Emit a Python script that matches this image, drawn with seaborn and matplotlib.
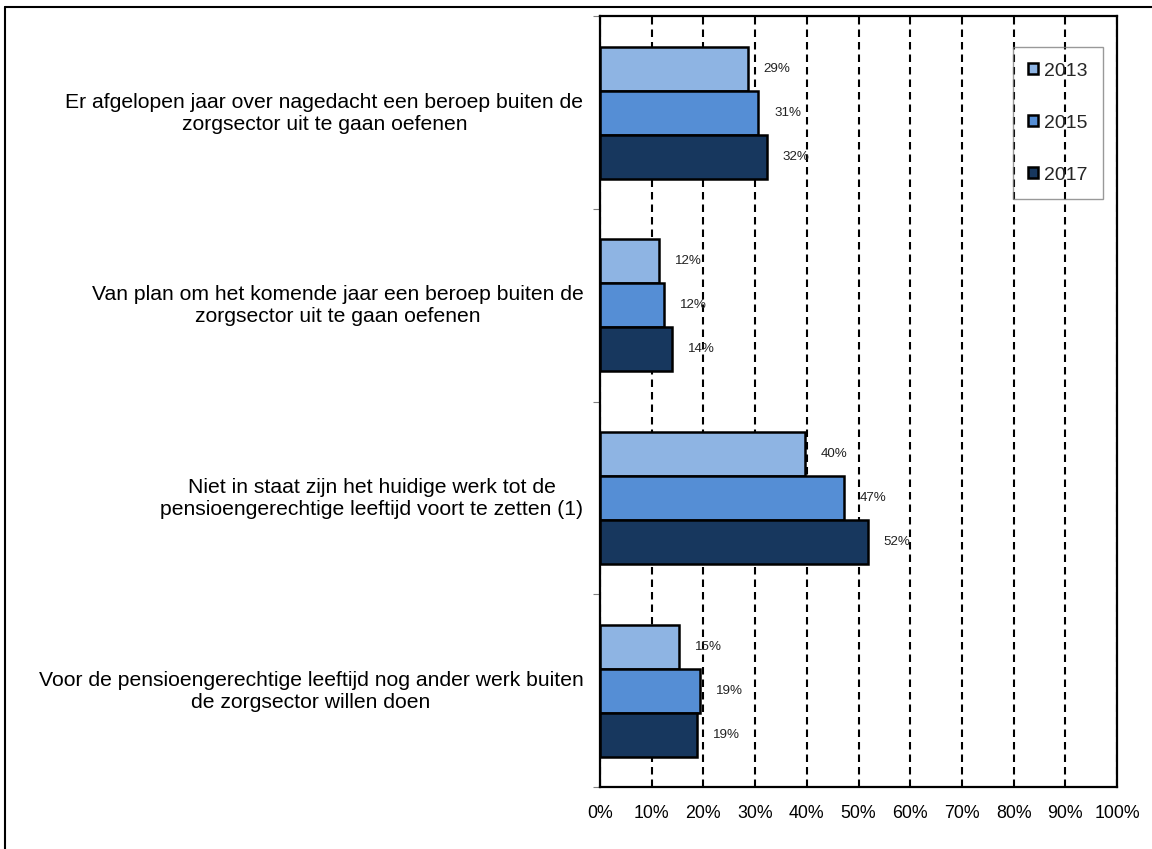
import pandas as pd
import matplotlib.pyplot as plt
import matplotlib.transforms as mtransforms
import seaborn as sns

# data (percentages)
categories = [
    'Er afgelopen jaar over nagedacht een beroep buiten de\nzorgsector uit te gaan oefenen',
    'Van plan om het komende jaar een beroep buiten de\nzorgsector uit te gaan oefenen',
    'Niet in staat zijn het huidige werk tot de\npensioengerechtige leeftijd voort te zetten (1)',
    'Voor de pensioengerechtige leeftijd nog ander werk buiten\nde zorgsector willen doen',
]
years = ['2013', '2015', '2017']
values_2013 = [28.6, 11.5, 39.6, 15.3]
values_2015 = [30.6, 12.3, 47.2, 19.4]
values_2017 = [32.3, 13.9, 51.8, 18.7]
xticks = [0, 10, 20, 30, 40, 50, 60, 70, 80, 90, 100]
xtick_labels = ['0%', '10%', '20%', '30%', '40%', '50%', '60%', '70%', '80%', '90%', '100%']
colors = ['#8EB4E3', '#558ED5', '#17375E']

df = pd.DataFrame({
    'categorie': categories * 3,
    'jaar': [y for y in years for _ in categories],
    'waarde': values_2013 + values_2015 + values_2017,
})

sns.set_theme(style='white')
plt.rcParams['font.family'] = ['Liberation Sans', 'DejaVu Sans']

fig = plt.figure(figsize=(11.52, 8.49), dpi=100)
ax = fig.add_axes([600 / 1152, 1 - 787 / 849, 517 / 1152, 770.6 / 849])

sns.barplot(data=df, y='categorie', x='waarde', hue='jaar', hue_order=years,
            order=categories, palette=colors, orient='h', width=0.685,
            edgecolor='black', linewidth=1.8, saturation=1, ax=ax)

# value labels
for cont in ax.containers:
    ax.bar_label(cont, fmt='{:.0f}%', padding=11.5, fontsize=9.6, color='#222222')

ax.set_xlim(0, 100)
ax.set_ylim(3.5, -0.5)
ax.set_xticks(xticks)
ax.set_xticklabels(xtick_labels, fontsize=12.8, color='black')
ax.tick_params(axis='x', length=0, pad=13)
ax.set_yticks(range(len(categories)))
ax.set_yticklabels(categories, fontsize=15.2, color='black', ha='right',
                   multialignment='center', linespacing=1.2)
ax.tick_params(axis='y', which='major', length=0, pad=12)
# nudge the category labels up a little
shift = mtransforms.ScaledTranslation(0, 3 / 100, fig.dpi_scale_trans)
for lbl in ax.get_yticklabels():
    lbl.set_transform(lbl.get_transform() + shift)
ax.set_yticks([-0.5, 0.5, 1.5, 2.5, 3.5], minor=True)
ax.tick_params(axis='y', which='minor', length=5, width=0.8, color='#808080', left=True, direction='out')
ax.set_xlabel('')
ax.set_ylabel('')

# dashed vertical gridlines behind the bars
ax.set_axisbelow(True)
ax.grid(axis='x', color='black', linestyle=(0, (3.6, 2.4)), linewidth=1.5)
ax.grid(axis='y', visible=False)
for s in ax.spines.values():
    s.set_visible(True)
    s.set_color('black')
    s.set_linewidth(1.6)

leg = ax.legend(loc='upper right', bbox_to_anchor=(0.973, 0.960), fontsize=14,
                frameon=True, fancybox=False, borderpad=0.8, labelspacing=1.8,
                handlelength=0.5, handleheight=0.5, handletextpad=0.3, borderaxespad=0)
leg.get_frame().set_facecolor('none')
leg.get_frame().set_edgecolor('#808080')
leg.get_frame().set_linewidth(1)

# outer frame of the original figure (left and top edges)
fig.add_artist(plt.Line2D([5 / 1152, 5 / 1152], [0, 1 - 7 / 849], color='black', linewidth=1.5))
fig.add_artist(plt.Line2D([5 / 1152, 1], [1 - 7 / 849, 1 - 7 / 849], color='black', linewidth=1.5))

plt.savefig('out.png', dpi=100)
